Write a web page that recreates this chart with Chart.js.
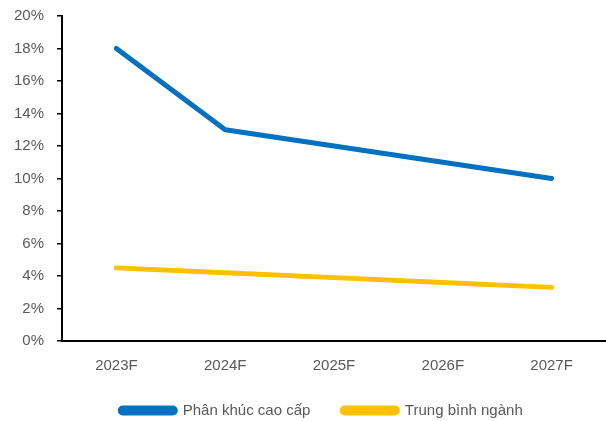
<!DOCTYPE html>
<html>
<head>
<meta charset="utf-8">
<script src="https://cdn.jsdelivr.net/npm/chart.js@4"></script>
<style>
  html, body { margin: 0; padding: 0; background: #fff; }
  #chart { display: block; }
</style>
</head>
<body>
<canvas id="chart" width="606" height="421"></canvas>
<script>
const years = ['2023F', '2024F', '2025F', '2026F', '2027F'];
const premiumSegment = [18, 13, 12, 11, 10];
const industryAverage = [4.5, 4.2, 3.9, 3.6, 3.3];
const yTicks = [0, 2, 4, 6, 8, 10, 12, 14, 16, 18, 20];

const textColor = '#595959';
const font = { family: '"Liberation Sans", Arial, sans-serif', size: 15 };

// nudge the legend a bit right so it sits under the plot rather than the page
const legendShift = {
    id: 'legendShift',
    afterLayout(chart) {
        chart.legend.left += 18;
        chart.legend.right += 18;
    }
};

const ctx = document.getElementById('chart').getContext('2d');
new Chart(ctx, {
    type: 'line',
    data: {
        labels: years,
        datasets: [
            {
                label: 'Phân khúc cao cấp',
                data: premiumSegment,
                borderColor: '#0070C0',
                backgroundColor: '#0070C0',
                borderWidth: 5,
                borderCapStyle: 'round',
                borderJoinStyle: 'round',
                pointRadius: 0,
                tension: 0
            },
            {
                label: 'Trung bình ngành',
                data: industryAverage,
                borderColor: '#FFC000',
                backgroundColor: '#FFC000',
                borderWidth: 5,
                borderCapStyle: 'round',
                borderJoinStyle: 'round',
                pointRadius: 0,
                tension: 0
            }
        ]
    },
    plugins: [legendShift],
    options: {
        responsive: false,
        animation: false,
        layout: { padding: { top: 0, right: 0, left: 1, bottom: -7 } },
        plugins: {
            tooltip: { enabled: false },
            legend: {
                position: 'bottom',
                labels: {
                    color: textColor,
                    font: font,
                    boxWidth: 55,
                    boxHeight: 5,
                    useBorderRadius: true,
                    borderRadius: 2.5,
                    padding: 32
                }
            }
        },
        scales: {
            x: {
                offset: true,
                grid: { display: false, drawTicks: false },
                border: { color: '#000', width: 2 },
                ticks: { color: textColor, font: font, padding: 16 },
                // keep the legend close under the year labels
                afterFit: axis => { axis.height = 30; }
            },
            y: {
                min: 0,
                max: 20,
                afterBuildTicks: axis => {
                    axis.ticks = yTicks.map(v => ({ value: v }));
                },
                grid: {
                    drawOnChartArea: false,
                    drawTicks: true,
                    tickLength: 5,
                    color: '#000',
                    lineWidth: 1.5
                },
                border: { color: '#000', width: 2 },
                ticks: {
                    color: textColor,
                    // tight line height so the top label hugs the canvas edge
                    font: { ...font, lineHeight: 0.4 },
                    padding: 13,
                    callback: v => v + '%'
                }
            }
        }
    }
});
</script>
</body>
</html>
